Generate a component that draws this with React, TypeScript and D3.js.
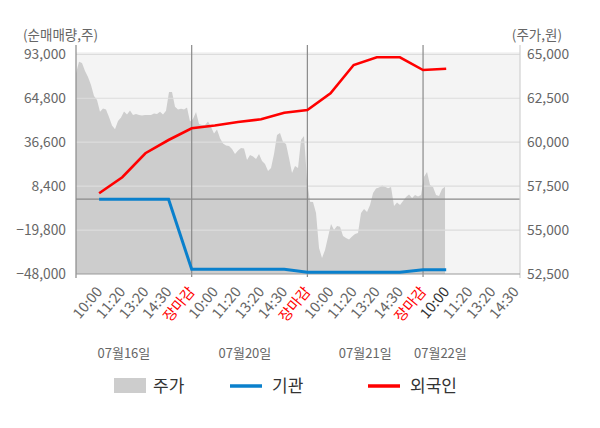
import * as d3 from "d3";

// slot index: 0 = 07/16 10:00, 4 = 07/16 장마감, 5 = 07/20 10:00 ...
const timeLabels = [
  "10:00", "11:20", "13:20", "14:30", "장마감",
  "10:00", "11:20", "13:20", "14:30", "장마감",
  "10:00", "11:20", "13:20", "14:30", "장마감",
  "10:00", "11:20", "13:20", "14:30",
];
const closeSlots = [4, 9, 14];
const currentSlot = 15;

const dayLabels = ["07월16일", "07월20일", "07월21일", "07월22일"];
const dayLabelSlots = [1.07, 6.3, 11.5, 14.75];

const leftTicks = [93000, 64800, 36600, 8400, -19800, -48000];
const rightTicks = [65000, 62500, 60000, 57500, 55000, 52500];

// 순매매량 (slots 0..15)
const foreignNet = [3800, 14100, 29500, 38000, 45500, 47300, 49550, 51300, 55450, 57250, 67950, 86100, 91100, 91100, 82900, 83750];
const institutionNet = [0, 0, 0, 0, -45000, -45000, -45000, -45000, -45000, -46800, -46800, -46800, -46800, -46800, -45300, -45300];

// 주가, evenly spaced from 07/16 open to 07/22 10:00
const priceStartSlot = -1;
const priceEndSlot = 14.95;
const prices = [
  63920, 64580, 64500, 64050, 63710, 63250, 62630, 62400, 61730, 61920,
  61860, 61430, 60950, 60730, 61200, 61400, 61750, 61570, 61800, 61550,
  61600, 61550, 61520, 61550, 61550, 61550, 61630, 61600, 61730, 61570,
  61790, 62850, 62850, 62020, 61860, 61900, 61860, 61970, 61170, 61320,
  61720, 61030, 60980, 60980, 61170, 60860, 60500, 60720, 60220, 59920,
  59810, 59780, 59610, 59330, 59530, 59670, 59640, 58990, 59270, 59190,
  59040, 59330, 58930, 58760, 58360, 58530, 59330, 60410, 60520, 60010,
  59900, 59100, 58250, 58640, 58530, 60120, 60350, 57850, 56610, 56600,
  55970, 53980, 53410, 53870, 54600, 55340, 55000, 55230, 55190, 54660,
  54550, 54470, 54630, 54780, 54830, 55970, 56200, 56030, 56430, 57110,
  57360, 57420, 57530, 57470, 57380, 57450, 56370, 56570, 56430, 56650,
  56880, 57020, 56820, 56990, 56910, 56990, 58040, 58300, 57560, 57450,
  56990, 56940, 57340, 57470,
];

const W = 600;
const H = 428;
const plot = { left: 76, right: 520, top: 52, bottom: 274, gridTop: 54.3 };
const FONT = "'Noto Sans CJK KR', 'Noto Sans', sans-serif";

export default function App() {
  const x = d3.scaleLinear().domain([-1, 18.19]).range([plot.left, plot.right]);
  const yL = d3.scaleLinear().domain([-48000, 93000]).range([plot.bottom, plot.gridTop]);
  const yR = d3.scaleLinear().domain([52500, 65000]).range([plot.bottom, plot.gridTop]);
  const priceSlot = d3.scaleLinear().domain([0, prices.length - 1]).range([priceStartSlot, priceEndSlot]);

  const area = d3.area<number>()
    .x((_, i) => x(priceSlot(i)))
    .y0(plot.bottom)
    .y1((d) => yR(d));

  const line = d3.line<number>()
    .x((_, i) => x(i))
    .y((d) => yL(d));

  const fmt = d3.format(",");

  return (
    <svg width={W} height={H} style={{ position: "absolute", left: 0, top: 0, fontFamily: FONT }}>
      <rect x={plot.left} y={plot.top} width={plot.right - plot.left} height={plot.bottom - plot.top} fill="#f4f4f4" />
      <path d={area(prices) || ""} fill="#cdcdcd" />

      {leftTicks.slice(0, -1).map((t) => (
        <line key={t} x1={plot.left} x2={plot.right} y1={yL(t)} y2={yL(t)} stroke="#dcdcdc" strokeWidth={1.2} />
      ))}
      <line x1={plot.left} x2={plot.right} y1={yL(0)} y2={yL(0)} stroke="#8a8a8a" strokeWidth={1.2} />

      {closeSlots.map((s) => (
        <line key={s} x1={x(s)} x2={x(s)} y1={45} y2={277} stroke="#8a8a8a" strokeWidth={1.2} />
      ))}
      <line x1={plot.left} x2={plot.left} y1={45} y2={278} stroke="#8a8a8a" strokeWidth={1.2} />
      <line x1={plot.right} x2={plot.right} y1={45} y2={278} stroke="#d0d0d0" strokeWidth={1.2} />
      <line x1={plot.left} x2={plot.right} y1={plot.bottom} y2={plot.bottom} stroke="#9a9a9a" strokeWidth={1.2} />

      <path d={line(institutionNet) || ""} fill="none" stroke="#0a80cc" strokeWidth={3} />
      <path d={line(foreignNet) || ""} fill="none" stroke="#ff0000" strokeWidth={2.6} />

      <text x={23} y={40} fontSize={13.5} fill="#666">(순매매량,주)</text>
      <text x={562} y={40} fontSize={13.5} fill="#666" textAnchor="end">(주가,원)</text>

      {leftTicks.map((t) => (
        <text key={t} x={66} y={yL(t)} dy="0.35em" fontSize={13.8} fill="#666" textAnchor="end">{fmt(t)}</text>
      ))}
      {rightTicks.map((t) => (
        <text key={t} x={527} y={yR(t)} dy="0.35em" fontSize={13.8} fill="#666">{fmt(t)}</text>
      ))}

      {timeLabels.map((lab, i) => {
        const isClose = lab === "장마감";
        const isNow = i === currentSlot;
        return (
          <text
            key={i}
            transform={`translate(${x(i) + 4},${292}) rotate(-50)`}
            textAnchor="end"
            fontSize={14.5}
            fill={isClose ? "#ff0000" : isNow ? "#333" : "#666"}
          >
            {lab}
          </text>
        );
      })}

      {dayLabels.map((d, i) => (
        <text key={d} x={x(dayLabelSlots[i])} y={358} fontSize={13} fill="#666" textAnchor="middle">{d}</text>
      ))}

      <g fontSize={17} fill="#333">
        <rect x={114} y={378} width={32} height={15} fill="#cdcdcd" />
        <text x={153} y={392}>주가</text>
        <line x1={230} x2={262} y1={386} y2={386} stroke="#0a80cc" strokeWidth={3.5} />
        <text x={272} y={392}>기관</text>
        <line x1={368} x2={400} y1={386} y2={386} stroke="#ff0000" strokeWidth={3.5} />
        <text x={410} y={392}>외국인</text>
      </g>
    </svg>
  );
}
